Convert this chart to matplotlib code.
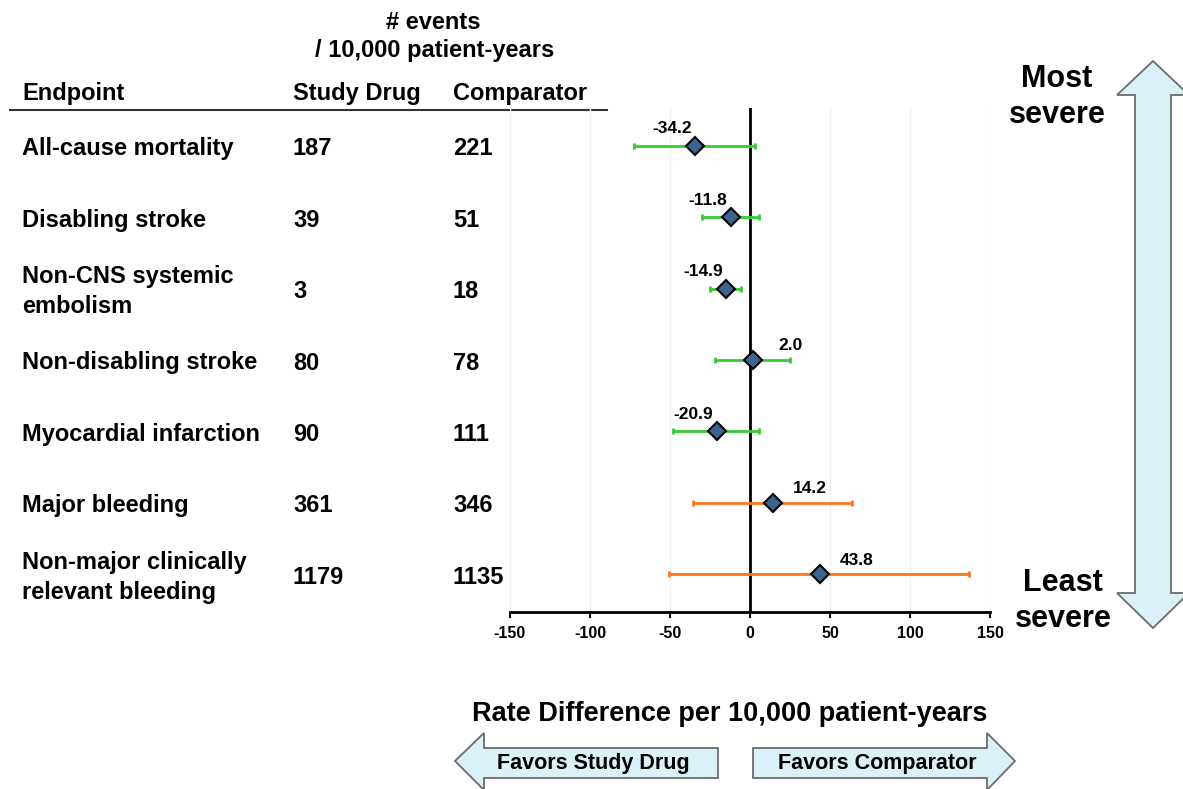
import matplotlib
matplotlib.use("Agg")
import matplotlib.pyplot as plt
from matplotlib.patches import Polygon
from matplotlib.transforms import blended_transform_factory, offset_copy

plt.rcParams["font.family"] = ["Liberation Sans", "DejaVu Sans"]
plt.rcParams["font.weight"] = "bold"

# data
endpoints = [
    "All-cause mortality",
    "Disabling stroke",
    "Non-CNS systemic\nembolism",
    "Non-disabling stroke",
    "Myocardial infarction",
    "Major bleeding",
    "Non-major clinically\nrelevant bleeding",
]
study_rate = [187, 39, 3, 80, 90, 361, 1179]
comparator_rate = [221, 51, 18, 78, 111, 346, 1135]
rate_diff = [-34.2, -11.8, -14.9, 2.0, -20.9, 14.2, 43.8]
ci_low = [-72.3, -30.0, -24.8, -21.9, -48.4, -35.4, -50.9]
ci_high = [3.1, 5.8, -5.6, 25.2, 5.6, 63.5, 137.0]
is_bleeding = [False, False, False, False, False, True, True]
x_ticks = [-150, -100, -50, 0, 50, 100, 150]

W, H = 1183, 789
fig = plt.figure(figsize=(W / 100, H / 100), dpi=100)

# overlay in pixel coordinates for the table text and the arrows
over = fig.add_axes([0, 0, 1, 1], zorder=0)
over.set_xlim(0, W)
over.set_ylim(H, 0)
over.axis("off")

ax = fig.add_axes([510 / W, 1 - 612 / H, 480 / W, 504 / H], zorder=1)
ax.patch.set_alpha(0)

green = "#33cc33"
orange = "#ff7420"
diamond = "#3b6491"

for i, (d, lo, hi, bl) in enumerate(zip(rate_diff, ci_low, ci_high, is_bleeding)):
    c = orange if bl else green
    ax.errorbar(d, i, xerr=[[d - lo], [hi - d]], fmt="none", ecolor=c,
                elinewidth=2, capsize=2.5, capthick=2, zorder=3)
    ax.plot(d, i, marker="D", markersize=9, color=diamond, mec="black",
            mew=1.5, zorder=4)
    off = (-23, 17) if d < 0 else (37, 14)
    ax.annotate(f"{d:.1f}", (d, i), xytext=off, textcoords="offset pixels",
                ha="center", va="center", fontsize=12.5, fontweight="bold")

ax.axvline(0, color="black", lw=2, zorder=2)
for t in x_ticks:
    if t != 0:
        ax.axvline(t, color="#f0f0f0", lw=1, zorder=1)

ax.set_xlim(-150, 150)
ax.set_ylim(6.53, -0.53)
ax.set_xticks(x_ticks)
ax.set_xticklabels([str(t) for t in x_ticks], fontsize=11.5, fontweight="bold")
ax.set_yticks([])
for s in ["left", "right", "top"]:
    ax.spines[s].set_visible(False)
ax.spines["bottom"].set_linewidth(2)
ax.tick_params(axis="x", direction="out", length=4, width=1.5, pad=6)

# table
tr = offset_copy(blended_transform_factory(over.transData, ax.transData),
                 fig=fig, y=-3, units="dots")
for i, name in enumerate(endpoints):
    over.text(22, i, name, transform=tr, ha="left", va="center",
              fontsize=17, fontweight="bold", linespacing=1.4)
    over.text(293, i, str(study_rate[i]), transform=tr, ha="left",
              va="center", fontsize=17, fontweight="bold")
    over.text(453, i, str(comparator_rate[i]), transform=tr, ha="left",
              va="center", fontsize=17, fontweight="bold")

hdr = dict(fontsize=17, fontweight="bold", va="center")
over.text(433, 22, "# events", ha="center", **hdr)
over.text(435, 50, "/ 10,000 patient-years", ha="center", **hdr)
over.text(22, 93, "Endpoint", ha="left", **hdr)
over.text(293, 93, "Study Drug", ha="left", **hdr)
over.text(453, 93, "Comparator", ha="left", **hdr)
over.plot([10, 607], [110, 110], color="#333333", lw=1.5)

big = dict(fontsize=22, fontweight="bold", ha="center", va="center")
over.text(1057, 79, "Most", **big)
over.text(1057, 115, "severe", **big)
over.text(1063, 583, "Least", **big)
over.text(1063, 619, "severe", **big)

over.text(730, 714, "Rate Difference per 10,000 patient-years", ha="center",
          va="center", fontsize=19.5, fontweight="bold")

fill = "#daf2f7"
edge = "#6b6b6b"

# vertical double arrow
cx = 1153
vert = [(cx, 61), (cx + 36, 95), (1171, 95), (1171, 593), (cx + 36, 593),
        (cx, 628), (cx - 36, 593), (1135, 593), (1135, 95), (cx - 36, 95)]
over.add_patch(Polygon(vert, closed=True, fc=fill, ec=edge, lw=1.3))

# horizontal arrows
left_arrow = [(455, 761), (484, 733), (484, 748), (718, 748), (718, 778),
              (484, 778), (484, 790)]
right_arrow = [(1015, 761), (987, 733), (987, 748), (753, 748), (753, 778),
               (987, 778), (987, 790)]
over.add_patch(Polygon(left_arrow, closed=True, fc=fill, ec=edge, lw=1.3))
over.add_patch(Polygon(right_arrow, closed=True, fc=fill, ec=edge, lw=1.3))
over.text(593, 764, "Favors Study Drug", ha="center", va="center",
          fontsize=15.5, fontweight="bold")
over.text(877, 764, "Favors Comparator", ha="center", va="center",
          fontsize=15.5, fontweight="bold")

fig.savefig("out.png", dpi=100)
